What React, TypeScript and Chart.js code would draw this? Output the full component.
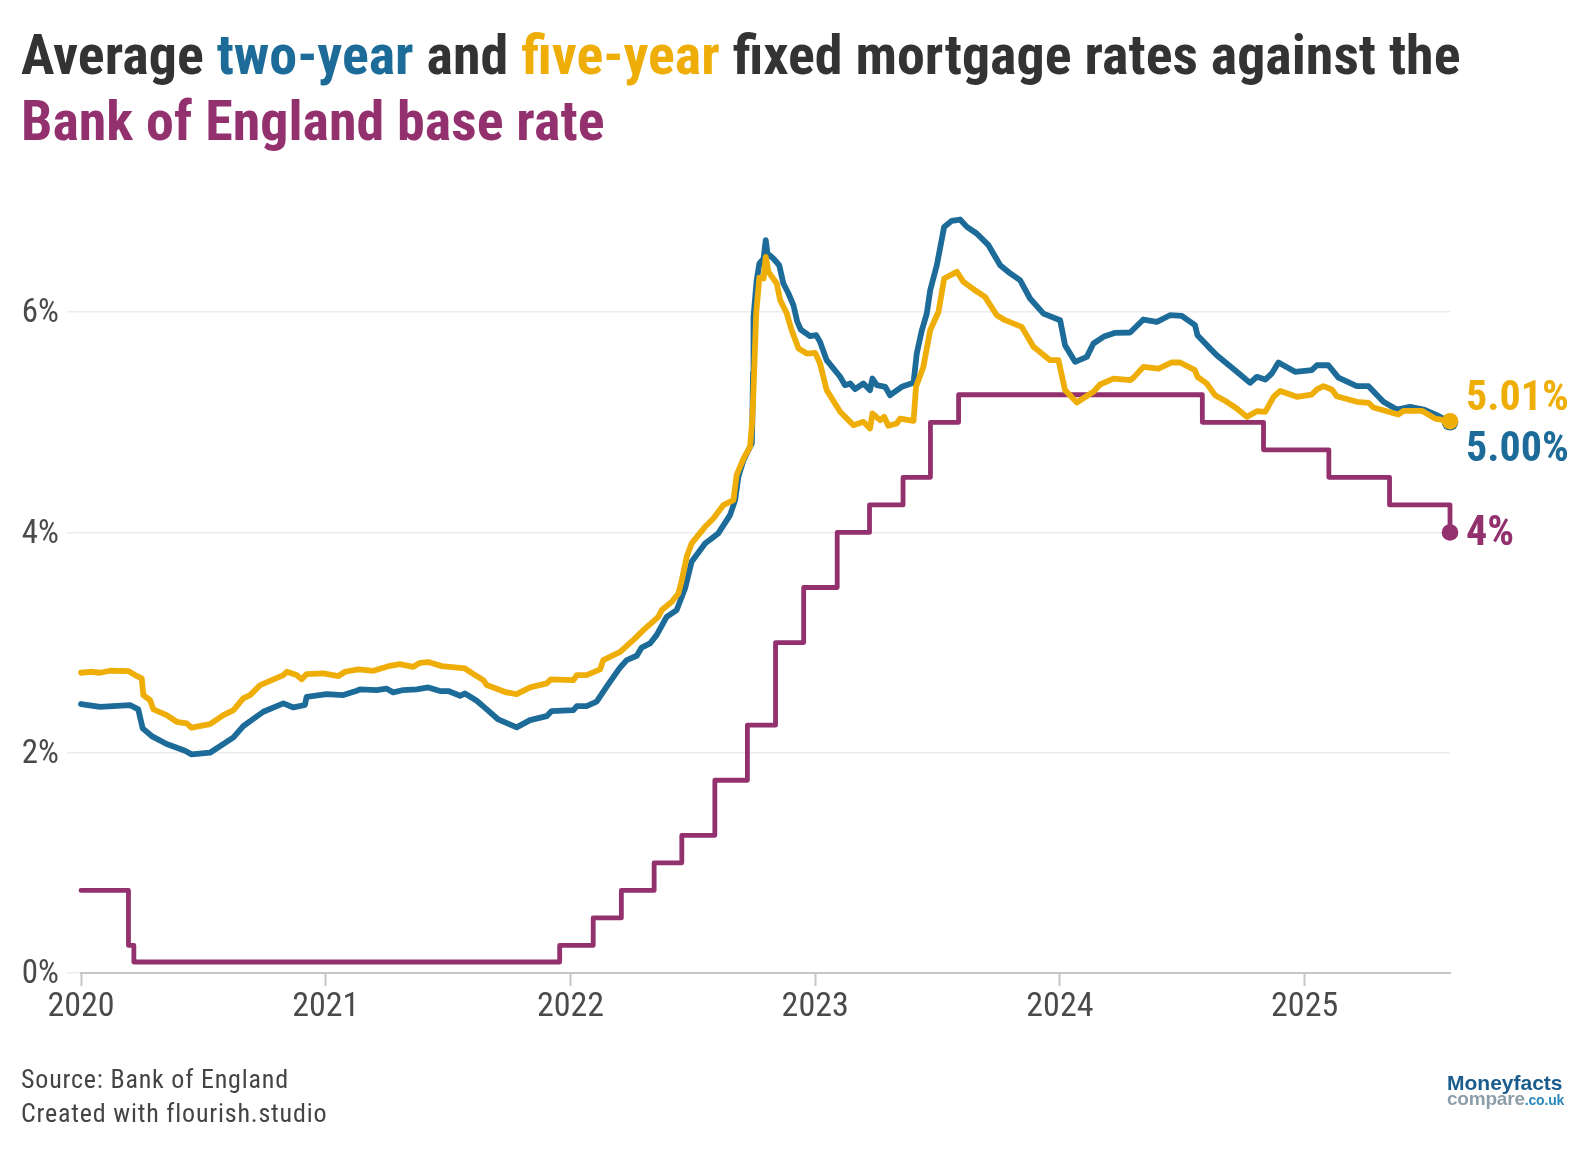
import { useEffect, useRef } from 'react'
import { Chart, registerables } from 'chart.js'

Chart.register(...registerables)

const TWO_YEAR = '#1c6b99'
const FIVE_YEAR = '#efae07'
const BASE_RATE = '#93316e'

const xTicks = [2020, 2021, 2022, 2023, 2024, 2025]
const yTicks = [0, 2, 4, 6]

const baseDates = [2020, 2020.194, 2020.216, 2021.956, 2022.093, 2022.208, 2022.342, 2022.455, 2022.59, 2022.723, 2022.838, 2022.953, 2023.09, 2023.222, 2023.359, 2023.471, 2023.586, 2024.582, 2024.832, 2025.099, 2025.347, 2025.594]
const baseRates = [0.75, 0.25, 0.1, 0.25, 0.5, 0.75, 1, 1.25, 1.75, 2.25, 3, 3.5, 4, 4.25, 4.5, 5, 5.25, 5, 4.75, 4.5, 4.25, 4]

const twoYearDates = [
  2020, 2020.078, 2020.2, 2020.234, 2020.252, 2020.289, 2020.35, 2020.425, 2020.452, 2020.527, 2020.623, 2020.663, 2020.745, 2020.827, 2020.868, 2020.915, 2020.922,
  2021.004, 2021.072, 2021.127, 2021.14, 2021.208, 2021.249, 2021.276, 2021.317, 2021.372, 2021.419, 2021.467, 2021.501, 2021.549, 2021.569, 2021.617, 2021.658, 2021.705, 2021.78, 2021.835, 2021.903, 2021.923,
  2022.012, 2022.026, 2022.066, 2022.107, 2022.148, 2022.203, 2022.23, 2022.271, 2022.291, 2022.325, 2022.352, 2022.393, 2022.434, 2022.468, 2022.495, 2022.55, 2022.604, 2022.652, 2022.673, 2022.686, 2022.707, 2022.741, 2022.743, 2022.746, 2022.748, 2022.761, 2022.772, 2022.789, 2022.798, 2022.805, 2022.829, 2022.853, 2022.87, 2022.891, 2022.911, 2022.927, 2022.941, 2022.979,
  2023.004, 2023.02, 2023.047, 2023.102, 2023.122, 2023.143, 2023.163, 2023.197, 2023.224, 2023.234, 2023.252, 2023.286, 2023.306, 2023.354, 2023.402, 2023.415, 2023.436, 2023.456, 2023.47, 2023.497, 2023.527, 2023.558, 2023.592, 2023.62, 2023.66, 2023.708, 2023.756, 2023.797, 2023.837, 2023.878, 2023.933,
  2024.001, 2024.021, 2024.062, 2024.11, 2024.137, 2024.178, 2024.226, 2024.287, 2024.341, 2024.396, 2024.45, 2024.498, 2024.552, 2024.562, 2024.607, 2024.641, 2024.723, 2024.777, 2024.805, 2024.839, 2024.866, 2024.893, 2024.961,
  2025.029, 2025.05, 2025.097, 2025.138, 2025.213, 2025.261, 2025.322, 2025.377, 2025.431, 2025.486, 2025.54, 2025.594,
]
const twoYearRates = [
  2.442, 2.417, 2.433, 2.393, 2.221, 2.151, 2.079, 2.018, 1.985, 2, 2.139, 2.242, 2.372, 2.448, 2.411, 2.433, 2.508,
  2.532, 2.523, 2.563, 2.575, 2.569, 2.581, 2.548, 2.569, 2.575, 2.593, 2.56, 2.56, 2.517, 2.538, 2.472, 2.393, 2.302, 2.23, 2.296, 2.332, 2.378,
  2.387, 2.423, 2.423, 2.463, 2.599, 2.774, 2.841, 2.88, 2.955, 2.992, 3.068, 3.234, 3.295, 3.491, 3.734, 3.9, 3.991, 4.157, 4.293, 4.505, 4.656, 4.808, 4.989, 5.45, 5.957, 6.29, 6.441, 6.487, 6.653, 6.532, 6.487, 6.426, 6.26, 6.169, 6.063, 5.912, 5.842, 5.782,
  5.791, 5.73, 5.564, 5.413, 5.337, 5.352, 5.301, 5.352, 5.292, 5.397, 5.337, 5.322, 5.246, 5.322, 5.358, 5.624, 5.836, 5.987, 6.199, 6.426, 6.774, 6.829, 6.841, 6.774, 6.714, 6.608, 6.426, 6.351, 6.29, 6.124, 5.987,
  5.927, 5.7, 5.549, 5.594, 5.715, 5.776, 5.812, 5.815, 5.933, 5.912, 5.972, 5.966, 5.882, 5.791, 5.685, 5.609, 5.458, 5.358, 5.413, 5.388, 5.443, 5.543, 5.458,
  5.473, 5.518, 5.518, 5.406, 5.328, 5.328, 5.186, 5.116, 5.14, 5.116, 5.065, 5,
]

const fiveYearDates = [
  2020, 2020.037, 2020.078, 2020.119, 2020.193, 2020.221, 2020.248, 2020.255, 2020.282, 2020.296, 2020.35, 2020.391, 2020.432, 2020.452, 2020.527, 2020.582, 2020.623, 2020.663, 2020.691, 2020.732, 2020.827, 2020.841, 2020.881, 2020.902, 2020.922, 2020.99,
  2021.052, 2021.079, 2021.133, 2021.195, 2021.263, 2021.303, 2021.358, 2021.385, 2021.419, 2021.474, 2021.569, 2021.61, 2021.644, 2021.658, 2021.739, 2021.78, 2021.835, 2021.903, 2021.919,
  2022.012, 2022.026, 2022.066, 2022.121, 2022.134, 2022.203, 2022.264, 2022.298, 2022.359, 2022.373, 2022.414, 2022.441, 2022.455, 2022.475, 2022.495, 2022.55, 2022.584, 2022.625, 2022.666, 2022.679, 2022.707, 2022.734, 2022.743, 2022.748, 2022.759, 2022.772, 2022.789, 2022.798, 2022.809, 2022.843, 2022.857, 2022.884, 2022.904, 2022.932, 2022.966,
  2023, 2023.02, 2023.047, 2023.102, 2023.156, 2023.197, 2023.224, 2023.234, 2023.265, 2023.282, 2023.299, 2023.333, 2023.347, 2023.402, 2023.412, 2023.442, 2023.47, 2023.504, 2023.527, 2023.579, 2023.606, 2023.647, 2023.694, 2023.742, 2023.776, 2023.844, 2023.892, 2023.96, 2023.994,
  2024.021, 2024.069, 2024.137, 2024.164, 2024.219, 2024.287, 2024.3, 2024.341, 2024.403, 2024.457, 2024.491, 2024.552, 2024.562, 2024.6, 2024.634, 2024.682, 2024.723, 2024.764, 2024.805, 2024.839, 2024.873, 2024.9, 2024.968,
  2025.029, 2025.05, 2025.077, 2025.111, 2025.131, 2025.213, 2025.261, 2025.281, 2025.383, 2025.404, 2025.479, 2025.533, 2025.594,
]
const fiveYearRates = [
  2.726, 2.735, 2.726, 2.744, 2.741, 2.705, 2.675, 2.523, 2.478, 2.393, 2.342, 2.281, 2.266, 2.227, 2.26, 2.342, 2.387, 2.493, 2.523, 2.614, 2.705, 2.735, 2.705, 2.666, 2.714, 2.72,
  2.696, 2.735, 2.756, 2.744, 2.789, 2.804, 2.78, 2.816, 2.823, 2.786, 2.765, 2.705, 2.659, 2.614, 2.547, 2.532, 2.593, 2.629, 2.665,
  2.659, 2.705, 2.705, 2.756, 2.841, 2.916, 3.038, 3.113, 3.234, 3.295, 3.37, 3.446, 3.567, 3.779, 3.9, 4.051, 4.127, 4.248, 4.293, 4.52, 4.671, 4.777, 5.019, 5.292, 5.987, 6.314, 6.305, 6.502, 6.366, 6.26, 6.109, 5.987, 5.836, 5.67, 5.624,
  5.63, 5.534, 5.292, 5.095, 4.974, 5.004, 4.944, 5.08, 5.019, 5.049, 4.968, 4.989, 5.034, 5.013, 5.322, 5.503, 5.836, 6.003, 6.305, 6.366, 6.275, 6.208, 6.139, 5.972, 5.927, 5.866, 5.685, 5.564, 5.564,
  5.292, 5.18, 5.277, 5.343, 5.397, 5.382, 5.403, 5.503, 5.488, 5.543, 5.543, 5.473, 5.413, 5.352, 5.246, 5.186, 5.125, 5.049, 5.101, 5.095, 5.231, 5.285, 5.231,
  5.252, 5.298, 5.328, 5.298, 5.237, 5.186, 5.177, 5.134, 5.071, 5.104, 5.104, 5.034, 5.01,
]

const zip = (xs: number[], ys: number[]) => xs.map((x, i) => ({ x, y: ys[i] }))

const condensed = '"Roboto Condensed", Roboto, sans-serif'

function lastDot(color: string, width: number, order: number) {
  return {
    borderColor: color,
    backgroundColor: color,
    borderWidth: width,
    order,
    tension: 0,
    clip: false as const,
    borderJoinStyle: 'round' as const,
    borderCapStyle: 'round' as const,
    pointBorderWidth: 0,
    pointHoverRadius: 0,
    pointRadius: (ctx: any) => (ctx.dataIndex === ctx.dataset.data.length - 1 ? 8.3 : 0),
  }
}

const absText = (left: number, top: number, size: number, color: string, weight = 700): React.CSSProperties => ({
  position: 'absolute', left, top, fontFamily: condensed, fontSize: size, fontWeight: weight, color, lineHeight: 1, whiteSpace: 'nowrap',
})

export default function App() {
  const canvasRef = useRef<HTMLCanvasElement>(null)

  useEffect(() => {
    const chart = new Chart(canvasRef.current!, {
      type: 'line',
      data: {
        datasets: [
          { label: 'Bank of England base rate', data: zip(baseDates, baseRates), stepped: true, ...lastDot(BASE_RATE, 4.8, 3) },
          { label: 'Two-year fixed', data: zip(twoYearDates, twoYearRates), ...lastDot(TWO_YEAR, 5.8, 2) },
          { label: 'Five-year fixed', data: zip(fiveYearDates, fiveYearRates), ...lastDot(FIVE_YEAR, 5.8, 1) },
        ],
      },
      options: {
        responsive: false,
        animation: false,
        layout: { padding: { top: 202, right: 138, left: 0, bottom: 0 } },
        plugins: { legend: { display: false }, tooltip: { enabled: false } },
        scales: {
          x: {
            type: 'linear',
            min: 2020,
            max: 2025.594,
            afterBuildTicks: (axis: any) => { axis.ticks = xTicks.map(value => ({ value })) },
            afterFit: (axis: any) => { axis.height = 177 },
            border: { color: '#c6c6c6', width: 2 },
            grid: { drawOnChartArea: false, drawTicks: true, tickLength: 13, tickColor: '#c6c6c6', tickWidth: 2 },
            ticks: {
              color: '#4a4a4a',
              padding: 1,
              maxRotation: 0,
              font: { family: condensed, size: 34 },
              callback: (v: string | number) => String(v),
            },
          },
          y: {
            min: 0,
            max: 7,
            afterBuildTicks: (axis: any) => { axis.ticks = yTicks.map(value => ({ value })) },
            afterFit: (axis: any) => { axis.width = 81 },
            border: { display: false },
            grid: { color: '#ececec', lineWidth: 1.5, tickLength: 14 },
            ticks: {
              color: '#4a4a4a',
              padding: 8,
              labelOffset: 2,
              font: { family: condensed, size: 33 },
              callback: (v: string | number) => `${v}%`,
            },
          },
        },
      },
    })
    return () => chart.destroy()
  }, [])

  return (
    <div style={{ position: 'absolute', left: 0, top: 0, width: 1588, height: 1150, background: '#fff', overflow: 'hidden' }}>
      <canvas ref={canvasRef} width={1588} height={1150} style={{ display: 'block' }} />
      <div style={{ ...absText(21, 22, 56, '#333333'), lineHeight: '66px' }}>
        Average <span style={{ color: TWO_YEAR }}>two-year</span> and <span style={{ color: FIVE_YEAR }}>five-year</span> fixed mortgage rates against the
        <br />
        <span style={{ color: BASE_RATE }}>Bank of England base rate</span>
      </div>
      <div style={absText(1466, 375, 42, FIVE_YEAR)}>5.01%</div>
      <div style={absText(1466, 426, 42, TWO_YEAR)}>5.00%</div>
      <div style={absText(1466, 510, 42, BASE_RATE)}>4%</div>
      <div style={{ ...absText(21, 1063, 26, '#444444', 400), lineHeight: '33.5px', letterSpacing: 0.8 }}>
        Source: Bank of England
        <br />
        Created with flourish.studio
      </div>
      <div style={{ position: 'absolute', left: 1447, top: 1072, fontFamily: '"Liberation Sans", Arial, sans-serif', fontWeight: 700, lineHeight: 1, whiteSpace: 'nowrap' }}>
        <div style={{ fontSize: 21, color: '#1a5c8c', height: 17 }}>Moneyfacts</div>
        <div style={{ fontSize: 19, color: '#8e9ea9', letterSpacing: -0.2 }}>compare<span style={{ fontSize: 14, color: '#2a88ba' }}>.co.uk</span></div>
      </div>
    </div>
  )
}
